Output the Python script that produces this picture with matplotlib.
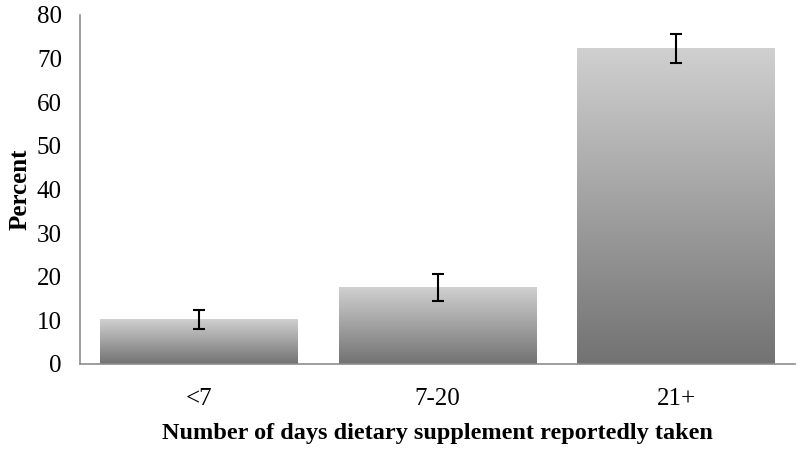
import numpy as np
import matplotlib
matplotlib.use("Agg")
import matplotlib.pyplot as plt
from matplotlib.colors import LinearSegmentedColormap

categories = ["<7", "7-20", "21+"]
percent = [10.2, 17.6, 72.3]
err = [2.1, 3.1, 3.4]
yticks = [0, 10, 20, 30, 40, 50, 60, 70, 80]

plt.rcParams['font.family'] = ['Liberation Serif', 'DejaVu Serif']

fig = plt.figure(figsize=(8, 4.51), dpi=100)
ax = fig.add_axes([0.1, 0.193, 0.894, 0.774])

x = np.arange(len(categories))
width = 0.83
grad = LinearSegmentedColormap.from_list("g", ["#727272", "#d0d0d0"])
ramp = np.linspace(0, 1, 256).reshape(-1, 1)

bars = ax.bar(x, percent, width=width, color="none", edgecolor="none", zorder=2)
for b in bars:
    x0, y0 = b.get_x(), b.get_y()
    im = ax.imshow(ramp, cmap=grad, origin="lower", aspect="auto",
                   extent=[x0, x0 + b.get_width(), y0, y0 + b.get_height()], zorder=2)
    im.set_clip_path(b)

ax.errorbar(x, percent, yerr=err, fmt="none", ecolor="black", elinewidth=1.5,
            capsize=4.5, capthick=1.5, zorder=3)

ax.set_xlim(-0.5, 2.5)
ax.set_ylim(0, 80)
ax.set_yticks(yticks)
ax.set_xticks(x)
ax.set_xticklabels(categories)
ax.tick_params(axis="both", length=0, labelsize=18, colors="black")
ax.tick_params(axis="y", pad=13)
ax.tick_params(axis="x", pad=17)

for s in ["top", "right"]:
    ax.spines[s].set_visible(False)
for s in ["left", "bottom"]:
    ax.spines[s].set_color("#8c8c8c")
    ax.spines[s].set_linewidth(1.2)

ax.set_ylabel("Percent", fontsize=18, fontweight="bold", labelpad=4)
ax.set_xlabel("Number of days dietary supplement reportedly taken", fontsize=17.5,
              fontweight="bold", labelpad=10)

fig.savefig("out.png", dpi=100)
